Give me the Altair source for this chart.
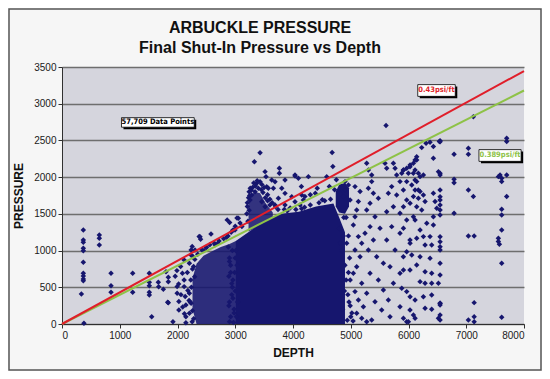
import altair as alt
import pandas as pd

NAVY = "#16166e"

# ---- individual well points (depth ft, pressure psi)
depth = [
    336, 369, 369, 369, 369, 369, 369, 369, 369, 369, 369, 380, 646, 646, 646,
    849, 849, 849, 1224, 1224, 1512, 1512, 1512, 1512, 1512, 1553, 1668, 1674,
    1755, 1841, 1841, 1841, 1801,
    1830, 1921, 1994, 1994, 2024, 2024, 2054, 2085, 2115, 2115, 2115, 2133,
    2145, 2145, 2145, 2206, 2236, 2254, 2266, 2279, 2297, 2206, 2236, 2206,
    2254, 2390, 2580, 2375, 2400, 2303, 2234, 1960, 1990, 2020, 2060, 2090,
    2120, 2170, 2180, 2200, 2230, 2260, 2280,
    2860, 2903, 2963, 3054, 3115, 3030, 3083, 3000, 2875, 2930, 2996, 2950,
    2920, 2960, 2940, 2980, 2900, 2990, 2700, 2650, 2500, 2460, 2900, 2950,
    3000, 2890, 3020,
    3430, 3331, 3516, 3533, 3764, 3764, 3632, 3689, 3862, 4035, 4093, 3545,
    3573, 3660, 3805, 3862, 3747, 3978, 4151, 4180, 3459, 3516, 3689, 3862,
    4035, 4122, 3343, 3285, 3256, 3372, 3430, 4145, 4206, 4387, 4508, 4630,
    4678, 4690, 4751, 4721, 4036, 4266, 4584, 4420, 4300,
    4960, 4980, 4990, 4970, 5000, 4940,
    4901, 4814, 4959, 4901, 4872, 4988, 5074, 5161, 5132, 5103, 5074, 5045,
    5132, 5190, 5074, 5161, 5103, 5045, 5190, 5074, 5132, 5219, 5103, 5190,
    5276, 5276, 5305, 5363, 5363, 5305, 5392, 5478, 5334, 5276, 5420, 5334,
    5247, 5392, 5507, 5305, 5449, 5565, 5334, 5478, 5276, 5565, 5420, 5536,
    5363,
    5593, 5622, 5611, 5738, 5767, 5795, 5853, 5709, 5651, 5795, 5911, 5969,
    5738, 5622, 5853, 5969, 5709, 5853, 5622, 6026, 5767, 5911, 5680, 5853,
    6026, 5738, 5969, 5651, 5853, 6026, 5680, 5969, 5911, 6026, 6084, 6142,
    6113, 6170,
    6229, 6304, 6373, 6431, 6535, 6431, 6142, 6114, 6085, 6027, 5969, 5912,
    5883, 5998, 6114, 6171, 6200, 6258, 6518, 5969, 6056, 6142, 6114, 6200,
    6085, 6171, 6258, 6287, 6027, 5912, 6142, 6229, 6431, 6460, 6489, 6431,
    6085, 6114, 6316, 6431, 5912, 6200, 6258, 6373, 6142, 6027, 6287, 6402,
    5969, 6056, 6200, 6373, 6142, 5912, 6287, 6402, 6200, 6287, 6402, 6518,
    5883, 6027, 6114, 6258, 6402, 6547, 6287, 6402, 6085, 5912, 5998, 6114,
    6518,
    6547, 6547, 6547, 6547, 6547, 6547, 6547, 6547, 6547, 6547, 6547, 6547,
    6547, 6547, 6547, 6547, 6547, 6547, 6547, 6547,
    6789, 6789, 6789, 6789, 7037, 7037, 7037, 7123, 7037, 7137, 7123, 7137,
    7037, 7137, 7137, 7700, 7700, 7585, 7614, 7700, 7556, 7614, 7700, 7614,
    7614, 7614, 7556, 7556, 7574, 7614, 7614,
    # fringe of the dense clouds
    3240, 3260, 3320, 3380, 3460, 3500, 3560, 3600, 3640, 3700, 3740, 3210,
    3200, 3220,
    3250, 3280, 3300, 3350, 3400, 3450, 3480, 3520, 3560, 3600, 3230, 3210,
    3240,
    3850, 3950, 4050, 4200, 4300, 4450, 4550, 4650, 3900, 4150,
    2220, 2240, 2260, 2300, 2350, 2420, 2500, 2560, 2640, 2720, 2800, 2850,
    2880, 2900, 2920, 2940, 2960, 2980, 3010, 3030, 3000, 3040, 2890, 2920,
    2970, 2900,
    4800, 4820, 4850, 4870, 4900, 4920, 4950, 4890, 4860, 4930, 4960, 4990,
    5020, 5040, 4880, 4920,
]
pressure = [
    409, 1280, 1144, 1113, 1031, 998, 840, 690, 654, 613, 590, 10, 1212, 1167,
    1076, 690, 522, 432, 690, 432, 690, 568, 522, 432, 395, 100, 568, 508,
    472, 636, 576, 290, 712,
    295, 32, 509, 418, 305, 191, 782, 691, 873, 600, 509, 373, 259, 100, 18,
    827, 1009, 1054, 918, 782, 645, 418, 282, 145, 32, 1189, 1226, 1191, 1154,
    1008, 940, 650, 727, 545, 400, 230, 140, 700, 455, 320, 600, 180, 70,
    1418, 1382, 1282, 1441, 1327, 1443, 1375, 1330, 1200, 1250, 1280, 1000,
    800, 600, 400, 200, 900, 700, 1100, 1080, 1050, 1000, 300, 500, 900, 650,
    100,
    2333, 2211, 2075, 2007, 2120, 2052, 1961, 1938, 1961, 2029, 1984, 1870,
    1848, 1848, 1848, 1779, 1711, 1734, 1757, 1689, 1666, 1598, 1621, 1621,
    1666, 1621, 1802, 1757, 1689, 1916, 1938, 1873, 1736, 1782, 1691, 1873,
    2336, 2145, 1964, 1827, 2016, 2007, 2007, 1850, 1760,
    1200, 900, 600, 300, 100, 50,
    1825, 1780, 1893, 1939, 1735, 1689, 1871, 1803, 1667, 1553, 1462, 1349,
    1190, 1099, 1008, 917, 781, 690, 554, 441, 327, 236, 146, 78, 32, 2189,
    2098, 2030, 1939, 1848, 1780, 1712, 1644, 1553, 1462, 1326, 1235, 1144,
    1303, 1008, 917, 827, 690, 600, 418, 463, 304, 191, 55,
    2189, 2121, 2702, 2189, 2121, 2030, 1939, 1871, 1780, 1757, 1825, 1689,
    1598, 1530, 1508, 1417, 1326, 1235, 1144, 1144, 1008, 917, 781, 690, 736,
    554, 441, 327, 236, 191, 100, 32, 2098, 2143, 2053, 2234, 1962, 1825,
    2402, 2461, 2475, 2416, 2484, 2257, 2279, 2234, 2189, 2166, 2121, 2098,
    2052, 2052, 2098, 2052, 2007, 2030, 2075, 1939, 1894, 1939, 1825, 1803,
    1735, 1712, 1757, 1667, 1644, 1598, 1598, 1553, 1780, 1667, 1576, 1462,
    1462, 1417, 1371, 1349, 1303, 1281, 1190, 1190, 1167, 1099, 1076, 1076,
    985, 940, 917, 895, 804, 736, 713, 690, 577, 554, 554, 554, 486, 372, 327,
    372, 395, 282, 214, 200, 123, 78, 32, 78, 78,
    2497, 2483, 2053, 2029, 1825, 1734, 1689, 1621, 1553, 1485, 1189, 1121,
    1053, 1008, 827, 667, 282, 259, 123, 54,
    2311, 1971, 1925, 1508, 2393, 2311, 1825, 1735, 1199, 1199, 2824, 291, 55,
    100, 32, 2529, 2484, 2030, 1984, 2030, 2007, 1939, 1735, 1562, 1485,
    1281, 1167, 1122, 1085, 827, 91,
    1800, 1850, 1920, 1950, 1900, 1860, 1760, 1700, 1650, 1600, 1560, 1600,
    1500, 1400,
    1750, 1820, 1860, 1880, 1850, 1830, 1790, 1720, 1680, 1620, 1720, 1650,
    1550,
    1560, 1580, 1560, 1590, 1620, 1650, 1680, 1700, 1540, 1570,
    300, 500, 750, 880, 950, 1010, 1040, 1080, 1100, 1130, 1160, 1180,
    1050, 850, 700, 550, 350, 150, 1000, 800, 450, 300, 250, 100,
    20, 30,
    1300, 1100, 1000, 1200, 800, 600, 400, 450, 200, 1100, 700, 250,
    150, 40, 1450, 1450,
]

# ---- solid cores where tens of thousands of points overlap (depth, low, high)
main_d = [3010, 3300, 3550, 3800, 4100, 4400, 4700, 4800, 4900]
main_lo = [0, 0, 0, 0, 0, 0, 0, 0, 0]
main_hi = [1130, 1290, 1420, 1500, 1530, 1600, 1640, 1450, 1250]

blob_d = [4740, 4800, 4900, 4970]
blob_lo = [1600, 1520, 1500, 1600]
blob_hi = [1800, 1900, 1920, 1850]

low_d = [2260, 2330, 2450, 2600, 2750, 2900, 3020]
low_lo = [200, 0, 0, 0, 0, 0, 0]
low_hi = [620, 820, 930, 990, 1050, 1090, 1135]

up_d = [3230, 3330, 3430, 3520, 3650]
up_lo = [1260, 1300, 1350, 1400, 1460]
up_hi = [1700, 1800, 1780, 1650, 1520]

# ---- gradient lines
line_d = [0, 8000]
red_p = [0, 3445]
green_p = [0, 3180]

# ---- annotation boxes (data units)
ann_text = ["0.43psi/ft", "0.389psi/ft", "57,709 Data Points"]
ann_color = ["#e01e2a", "#8ec247", "#000000"]
ann_x1 = [6160, 7220, 1030]
ann_x2 = [6810, 7950, 2290]
ann_y1 = [3100, 2215, 2680]
ann_y2 = [3260, 2375, 2810]

# ---- chart titles
title_1 = "ARBUCKLE PRESSURE"
title_2 = "Final Shut-In Pressure vs Depth"

xs = alt.Scale(domain=[0, 8000], nice=False)
ys = alt.Scale(domain=[0, 3500], nice=False)

xax = alt.Axis(values=list(range(0, 8001, 1000)), grid=False, title="DEPTH",
               format="d", labelFontSize=10, titleFontSize=12,
               titleFontWeight="bold", tickSize=4, labelPadding=2,
               titlePadding=7, domainColor="#303030", tickColor="#303030",
               labelColor="#202020", titleColor="#111111",
               labelFont="Liberation Sans", titleFont="Liberation Sans")
yax = alt.Axis(values=list(range(0, 3501, 500)), grid=True, title="PRESSURE",
               format="d", gridColor="#6e6e6e", gridWidth=1.3,
               labelFontSize=10, titleFontSize=12, titleFontWeight="bold",
               tickSize=4, labelPadding=2, titlePadding=8,
               domainColor="#303030", tickColor="#303030",
               labelColor="#202020", titleColor="#111111",
               labelFont="Liberation Sans", titleFont="Liberation Sans")


def X(field):
    return alt.X(field, type="quantitative", scale=xs, axis=xax)


def Y(field):
    return alt.Y(field, type="quantitative", scale=ys, axis=yax)


pts = pd.DataFrame({"depth": depth, "pressure": pressure})


def band(d, lo, hi, op):
    df = pd.DataFrame({"depth": d, "lo": lo, "hi": hi})
    return alt.Chart(df).mark_area(color=NAVY, opacity=op,
                                   interpolate="linear").encode(
        x=X("depth"), y=Y("hi"), y2="lo:Q")


points = alt.Chart(pts).mark_point(shape="diamond", filled=True, size=30,
                                   color=NAVY, opacity=1).encode(
    x=X("depth"), y=Y("pressure"))

ldf = pd.DataFrame({"depth": line_d, "red": red_p, "green": green_p})
green = alt.Chart(ldf).mark_line(color="#8ec247", strokeWidth=2).encode(
    x=X("depth"), y=Y("green"))
red = alt.Chart(ldf).mark_line(color="#e01e2a", strokeWidth=2).encode(
    x=X("depth"), y=Y("red"))

adf = pd.DataFrame({"t": ann_text, "c": ann_color, "x1": ann_x1, "x2": ann_x2,
                    "y1": ann_y1, "y2": ann_y2})
adf["xm"] = (adf.x1 + adf.x2) / 2
adf["ym"] = (adf.y1 + adf.y2) / 2
shadow = alt.Chart(adf).mark_rect(color="#000000", xOffset=2, yOffset=2,
                                  x2Offset=2, y2Offset=2).encode(
    x=X("x1"), x2="x2:Q", y=Y("y1"), y2="y2:Q")
box = alt.Chart(adf).mark_rect(fill="#ffffff", stroke="#000000",
                               strokeWidth=0.8).encode(
    x=X("x1"), x2="x2:Q", y=Y("y1"), y2="y2:Q")
label = alt.Chart(adf).mark_text(fontSize=7.5, fontWeight="bold",
                                 font="Liberation Sans Narrow, DejaVu Sans Condensed, Liberation Sans",
                                 baseline="middle", align="center").encode(
    x=X("xm"), y=Y("ym"), text="t:N", color=alt.Color("c:N", scale=None))

frame = alt.Chart(pd.DataFrame({"k": [0]})).mark_rect(
    fill=None, stroke="#555555", strokeWidth=1.5).encode(
    x=alt.value(-53), x2=alt.value(479), y=alt.value(-58), y2=alt.value(303))


def title_line(txt, ypix):
    return alt.Chart(pd.DataFrame({"t": [txt]})).mark_text(
        fontSize=16, fontWeight="bold", font="Liberation Sans", color="#111111",
        align="center", baseline="alphabetic").encode(
        x=alt.value(198), y=alt.value(ypix), text="t:N")


chart = alt.layer(
    frame,
    band(low_d, low_lo, low_hi, 0.88),
    band(up_d, up_lo, up_hi, 0.85),
    band(main_d, main_lo, main_hi, 1.0),
    band(blob_d, blob_lo, blob_hi, 1.0),
    points, green, red, shadow, box, label,
    title_line(title_1, -34), title_line(title_2, -14),
).properties(
    width=462, height=257,
    padding={"left": 54, "top": 59, "right": 18, "bottom": 47},
    autosize=alt.AutoSizeParams(type="none"),
    background="#f6f6f6",
).configure_view(fill="#d5d5dd", stroke=None)

chart.save("out.html", embed_options={"renderer": "svg", "actions": False})
